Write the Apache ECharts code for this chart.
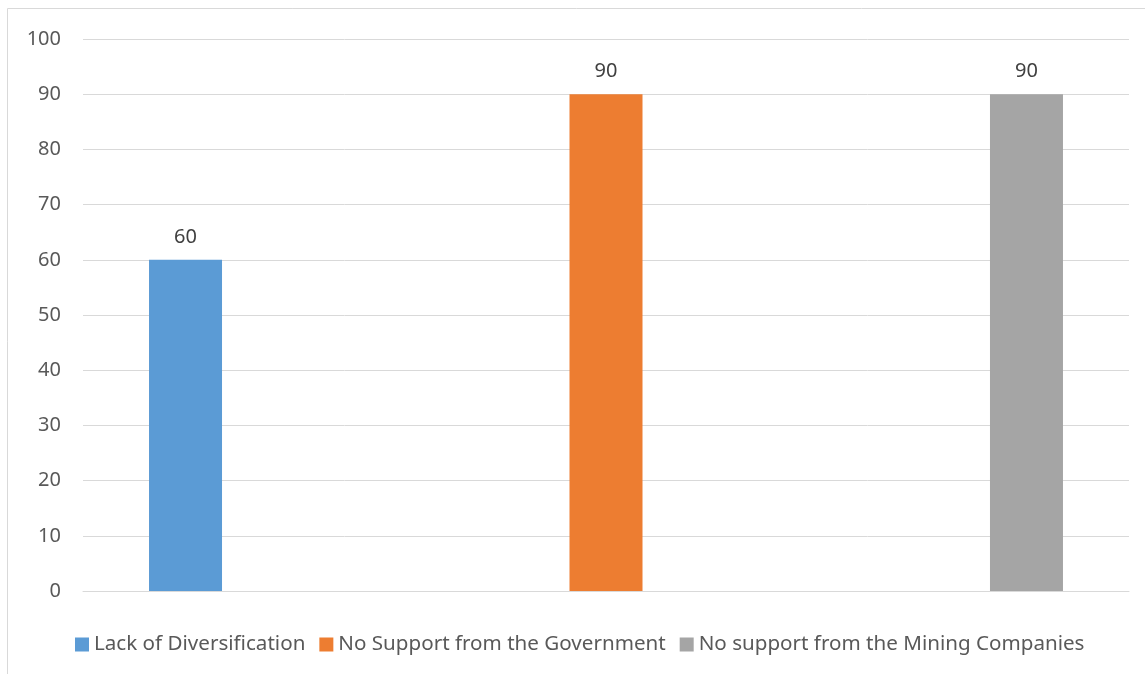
<!DOCTYPE html>
<html>
<head>
<meta charset="utf-8">
<script src="https://cdn.jsdelivr.net/npm/echarts@6/dist/echarts.min.js"></script>
<style>html,body{margin:0;padding:0;background:#fff}#c{width:1145px;height:674px}</style>
</head>
<body>
<div id="c"></div>
<script>
const categories = [''];
const seriesNames = ['Lack of Diversification', 'No Support from the Government', 'No support from the Mining Companies'];
const seriesValues = [[60], [90], [90]];
const seriesColors = ['#5b9bd5', '#ed7d31', '#a5a5a5'];
const yTicks = {min: 0, max: 100, interval: 10};

const chart = echarts.init(document.getElementById('c'));
const font = 'Noto Sans, sans-serif';
chart.setOption({
  animation: false,
  graphic: [{type: 'rect', shape: {x: 7.5, y: 8.5, width: 1150, height: 680}, style: {fill: 'none', stroke: '#d9d9d9', lineWidth: 1}}],
  grid: {left: 83, right: 16, top: 39, bottom: 83},
  legend: {
    bottom: 19, left: 75, itemWidth: 14, itemHeight: 14, itemGap: 14, padding: 0,
    icon: 'rect',
    textStyle: {fontFamily: font, fontSize: 20.6, color: '#595959', padding: [0, 0, 0, 0]},
    data: seriesNames
  },
  xAxis: {type: 'category', data: categories, axisTick: {show: false}, axisLabel: {show: false},
    axisLine: {lineStyle: {color: '#d9d9d9', width: 1}}},
  yAxis: {type: 'value', min: yTicks.min, max: yTicks.max, interval: yTicks.interval,
    axisLine: {show: false}, axisTick: {show: false},
    axisLabel: {fontFamily: font, fontSize: 20, color: '#595959', margin: 22},
    splitLine: {lineStyle: {color: '#d9d9d9', width: 1}}},
  series: seriesNames.map((n, i) => ({
    name: n, type: 'bar', data: seriesValues[i], barWidth: 73, barGap: '476%',
    itemStyle: {color: seriesColors[i]},
    label: {show: true, position: 'top', distance: 13, fontFamily: font, fontSize: 20, color: '#404040'}
  }))
});
</script>
</body>
</html>
